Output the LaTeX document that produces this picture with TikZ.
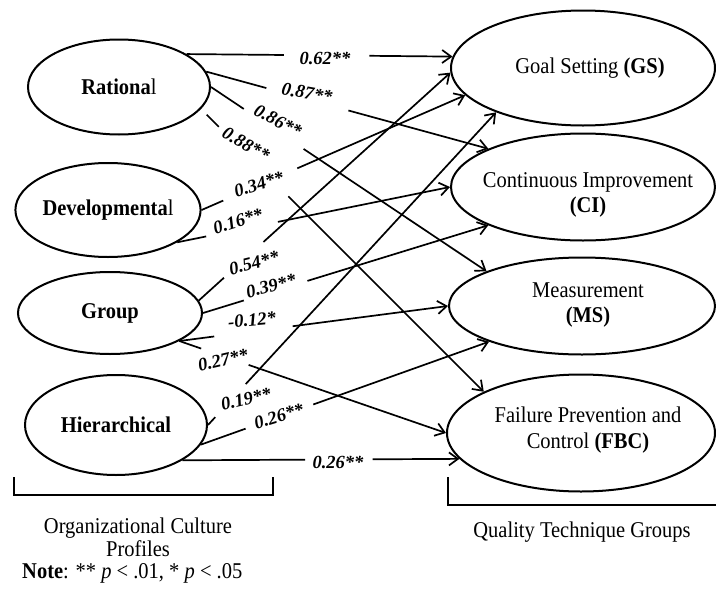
\documentclass[tikz,border=0pt]{standalone}
\usepackage{fontspec}
\usepackage{graphicx}
\setmainfont{Liberation Serif}
\usetikzlibrary{shapes.geometric,arrows.meta,calc}
\newcommand{\tallt}[1]{\scalebox{1}[1.1]{#1}}
\tikzset{
  ell/.style={draw, ellipse, line width=2pt, inner sep=0pt, font=\fontsize{20.5}{25.5}\selectfont},
  conn/.style={line width=1.7pt},
  arr/.style={-{Straight Barb[length=9pt,width=13pt]}},
  coef/.style={inner sep=0pt, font=\bfseries\itshape\fontsize{18.5}{20}\selectfont},
  txt/.style={inner sep=0pt, align=center, font=\fontsize{20.5}{23}\selectfont},
  brk/.style={line width=2pt}
}
\begin{document}
\begin{tikzpicture}[x=1pt,y=-1pt]
\useasboundingbox (0,0) rectangle (716,592);
% left ellipses
\node[ell, minimum width=182pt, minimum height=95pt] (rat) at (119,87) {\tallt{\textbf{Rationa}l}};
\node[ell, minimum width=184pt, minimum height=94pt] (dev) at (108,210) {\tallt{\textbf{Developmenta}l}};
\node[ell, minimum width=184pt, minimum height=82pt] (grp) at (110,313) {\tallt{\textbf{Group}}};
\node[ell, minimum width=182pt, minimum height=100pt] (hie) at (116,425) {\tallt{\textbf{Hierarchical}}};
% right ellipses
\node[ell, minimum width=264pt, minimum height=115pt,
  label={[xshift=7pt,yshift=0pt,font=\fontsize{20.5}{25.5}\selectfont,align=center]center:{\tallt{Goal Setting \textbf{(GS)}}}}] (gs) at (583,68) {};
\node[ell, minimum width=264pt, minimum height=107pt,
  label={[xshift=5pt,yshift=-8pt,font=\fontsize{20.5}{25.5}\selectfont,align=center]center:{\tallt{Continuous Improvement}\\\tallt{\textbf{(CI)}}}}] (ci) at (583,187) {};
\node[ell, minimum width=266pt, minimum height=97pt,
  label={[xshift=6pt,yshift=1pt,font=\fontsize{20.5}{25.5}\selectfont,align=center]center:{\tallt{Measurement}\\\tallt{\textbf{(MS)}}}}] (ms) at (582,306) {};
\node[ell, minimum width=268pt, minimum height=117pt,
  label={[xshift=7pt,yshift=3pt,font=\fontsize{20.5}{25.5}\selectfont,align=center]center:{\tallt{Failure Prevention and}\\\tallt{Control \textbf{(FBC)}}}}] (fbc) at (581,433) {};
% connectors (broken around coefficients)
\draw[conn] (rat.26) -- ($(rat.26)!0.366!(gs.175)$);
\draw[conn,arr] ($(rat.26)!0.687!(gs.175)$) -- (gs.175);
\draw[conn] (rat.10) -- ($(rat.10)!0.213!(ci.158)$);
\draw[conn,arr] ($(rat.10)!0.504!(ci.158)$) -- (ci.158);
\draw[conn] (rat.0) -- ($(rat.0)!0.119!(ms.160)$);
\draw[conn,arr] ($(rat.0)!0.336!(ms.160)$) -- (ms.160);
\draw[conn] ($(rat.-15)!0.02!(fbc.157)$) -- ($(rat.-15)!0.063!(fbc.157)$);
\draw[conn,arr] ($(rat.-15)!0.309!(fbc.157)$) -- (fbc.157);
\draw[conn] (dev.east) -- ($(dev.east)!0.082!(gs.193)$);
\draw[conn,arr] ($(dev.east)!0.363!(gs.193)$) -- (gs.193);
\draw[conn] (dev.-25) -- ($(dev.-25)!0.106!(ci.west)$);
\draw[conn,arr] ($(dev.-25)!0.369!(ci.west)$) -- (ci.west);
\draw[conn] (grp.8) -- ($(grp.8)!0.10!(gs.182)$);
\draw[conn,arr] ($(grp.8)!0.257!(gs.182)$) -- (gs.182);
\draw[conn] (grp.east) -- ($(grp.east)!0.143!(ci.202)$);
\draw[conn,arr] ($(grp.east)!0.366!(ci.202)$) -- (ci.202);
\draw[conn] (grp.-22) -- ($(grp.-22)!0.13!(ms.west)$);
\draw[conn,arr] ($(grp.-22)!0.422!(ms.west)$) -- (ms.west);
\draw[conn] (grp.-22) -- ($(grp.-22)!0.082!(fbc.west)$);
\draw[conn,arr] ($(grp.-22)!0.26!(fbc.west)$) -- (fbc.west);
\draw[conn] (hie.east) -- ($(hie.east)!0.025!(gs.207)$);
\draw[conn,arr] ($(hie.east)!0.131!(gs.207)$) -- (gs.207);
\draw[conn] (hie.-13) -- ($(hie.-13)!0.155!(ms.201)$);
\draw[conn,arr] ($(hie.-13)!0.39!(ms.201)$) -- (ms.201);
\draw[conn] (hie.-28) -- ($(hie.-28)!0.443!(fbc.192)$);
\draw[conn,arr] ($(hie.-28)!0.687!(fbc.192)$) -- (fbc.192);
% coefficients
\node[coef] (c1) at (325,58) {0.62**};
\node[coef, rotate=-10] (c2) at (307,93) {0.87**};
\node[coef, rotate=-28] (c3) at (278,121) {0.86**};
\node[coef, rotate=-30] (c4) at (246,144) {0.88**};
\node[coef, rotate=17] (c5) at (259,184) {0.34**};
\node[coef, rotate=17] (c6) at (238,221) {0.16**};
\node[coef, rotate=14] (c7) at (254,263) {0.54**};
\node[coef, rotate=14] (c8) at (271,286) {0.39**};
\node[coef, rotate=5] (c9) at (252,320) {-0.12*};
\node[coef, rotate=13] (c10) at (223,360) {0.27**};
\node[coef, rotate=13] (c11) at (246,399) {0.19**};
\node[coef, rotate=17] (c12) at (279,416) {0.26**};
\node[coef] (c13) at (338,462) {0.26**};
% brackets
\draw[brk] (14,477) -- (14,495) -- (273,495) -- (273,477);
\draw[brk] (448,477) -- (448,505) -- (716,505);
% captions
\node[txt] (occ) at (138,537) {\tallt{Organizational Culture}\\\tallt{Profiles}};
\node[txt] (qtg) at (582,532) {\tallt{Quality Technique Groups}};
\node[txt, anchor=west] (note) at (22,573) {\tallt{\textbf{Note}: ** \textit{p} < .01, * \textit{p} < .05}};
\end{tikzpicture}
\end{document}
